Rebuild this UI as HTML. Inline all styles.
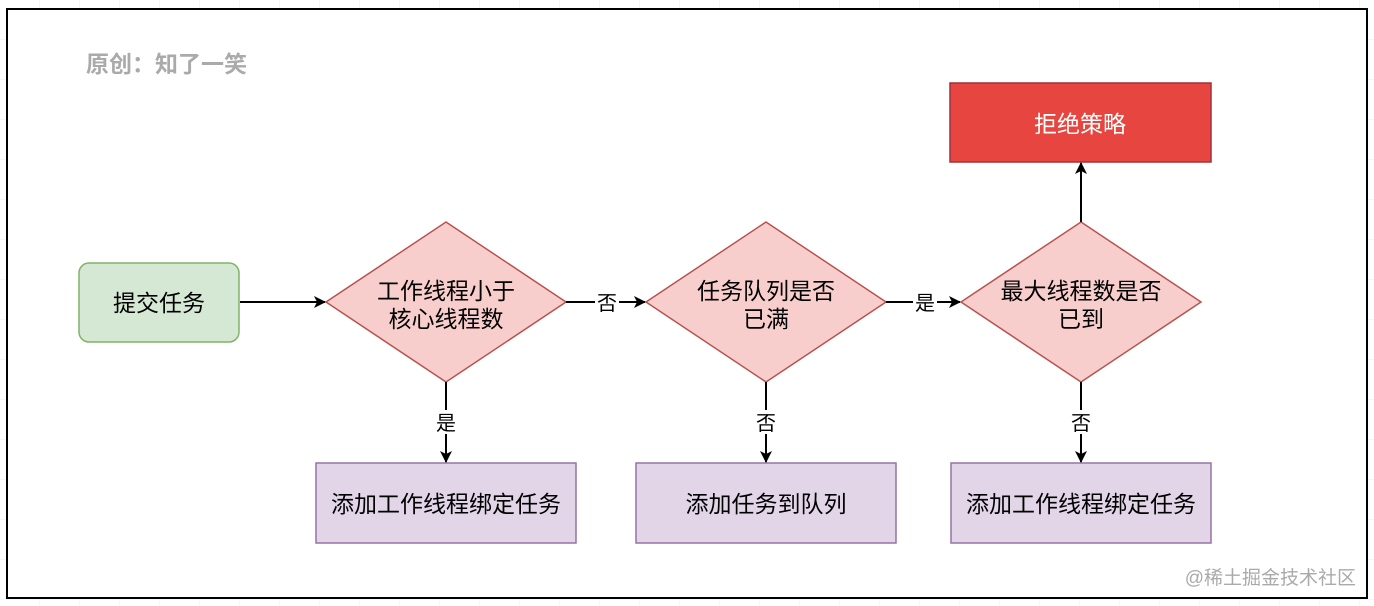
<!DOCTYPE html>
<html><head><meta charset="utf-8"><style>
html,body{margin:0;padding:0;background:#fff;}
svg{display:block;font-family:"Liberation Sans","Noto Sans CJK SC",sans-serif;}
</style></head><body>
<svg width="1374" height="606" viewBox="0 0 1374 606" xmlns="http://www.w3.org/2000/svg">
<defs>
<pattern id="g" width="40" height="40" patternUnits="userSpaceOnUse" x="0" y="0">
<path d="M40 0V40M0 40H40" stroke="#eeeeee" stroke-width="1" fill="none"/>
</pattern>
<marker id="a" markerWidth="12" markerHeight="12" refX="11" refY="6" orient="auto" markerUnits="userSpaceOnUse">
<path d="M0,0 L12,6 L0,12 L3,6 Z" fill="#000"/>
</marker>
</defs>
<rect width="1374" height="606" fill="#fff"/>
<rect width="1374" height="606" fill="url(#g)"/>
<rect x="7" y="9" width="1360" height="589" fill="#fff" stroke="#000" stroke-width="2"/>
<text x="86" y="72" font-size="23" font-weight="bold" fill="#aaaaaa">原创：知了一笑</text>

<rect x="79" y="263" width="160" height="79" rx="10" fill="#d5e8d4" stroke="#82b366" stroke-width="1.5"/>
<text x="159" y="311" font-size="23" text-anchor="middle">提交任务</text>

<polygon points="446,222 566,302 446,382 326,302" fill="#f8cecc" stroke="#b85450" stroke-width="1.5"/>
<text x="446" y="299" font-size="23" text-anchor="middle">工作线程小于</text>
<text x="446" y="327" font-size="23" text-anchor="middle">核心线程数</text>

<polygon points="766,222 886,302 766,382 646,302" fill="#f8cecc" stroke="#b85450" stroke-width="1.5"/>
<text x="766" y="299" font-size="23" text-anchor="middle">任务队列是否</text>
<text x="766" y="327" font-size="23" text-anchor="middle">已满</text>

<polygon points="1081,222 1201,302 1081,382 961,302" fill="#f8cecc" stroke="#b85450" stroke-width="1.5"/>
<text x="1081" y="299" font-size="23" text-anchor="middle">最大线程数是否</text>
<text x="1081" y="327" font-size="23" text-anchor="middle">已到</text>

<rect x="950" y="83" width="261" height="79" fill="#e6463f" stroke="#a0303a" stroke-width="1.5"/>
<text x="1080" y="132" font-size="23" fill="#fff" text-anchor="middle">拒绝策略</text>

<rect x="316" y="463" width="260" height="80" fill="#e1d5e7" stroke="#9673a6" stroke-width="1.5"/>
<text x="446" y="512" font-size="23" text-anchor="middle">添加工作线程绑定任务</text>
<rect x="636" y="463" width="260" height="80" fill="#e1d5e7" stroke="#9673a6" stroke-width="1.5"/>
<text x="766" y="512" font-size="23" text-anchor="middle">添加任务到队列</text>
<rect x="951" y="463" width="260" height="80" fill="#e1d5e7" stroke="#9673a6" stroke-width="1.5"/>
<text x="1081" y="512" font-size="23" text-anchor="middle">添加工作线程绑定任务</text>

<g stroke="#000" stroke-width="2" fill="none" marker-end="url(#a)">
<line x1="240" y1="302" x2="325" y2="302"/>
<line x1="566" y1="302" x2="645" y2="302"/>
<line x1="886" y1="302" x2="960" y2="302"/>
<line x1="446" y1="382" x2="446" y2="462"/>
<line x1="766" y1="382" x2="766" y2="462"/>
<line x1="1081" y1="382" x2="1081" y2="462"/>
<line x1="1081" y1="222" x2="1081" y2="163"/>
</g>
<g font-size="20" text-anchor="middle">
<rect x="595" y="290" width="24" height="24" fill="#fff"/><text x="607" y="310">否</text>
<rect x="913" y="290" width="24" height="24" fill="#fff"/><text x="925" y="310">是</text>
<rect x="434" y="410" width="24" height="24" fill="#fff"/><text x="446" y="430">是</text>
<rect x="754" y="410" width="24" height="24" fill="#fff"/><text x="766" y="430">否</text>
<rect x="1069" y="410" width="24" height="24" fill="#fff"/><text x="1081" y="430">否</text>
</g>
<text x="1356" y="584" font-size="19" fill="#aaaaaa" text-anchor="end">@稀土掘金技术社区</text>
</svg>
</body></html>
